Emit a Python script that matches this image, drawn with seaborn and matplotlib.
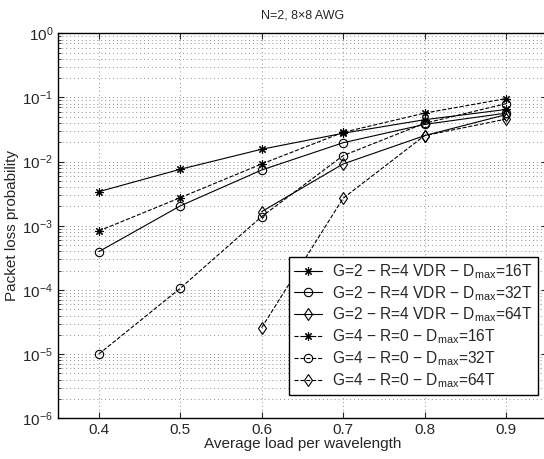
import numpy as np
import pandas as pd
import matplotlib
matplotlib.use('Agg')
import matplotlib.pyplot as plt
import seaborn as sns

load = [0.4, 0.5, 0.6, 0.7, 0.8, 0.9]
load_64 = [0.6, 0.7, 0.8, 0.9]

vdr_16 = [3.4e-3, 7.6e-3, 1.56e-2, 2.77e-2, 4.5e-2, 6.5e-2]
vdr_32 = [3.95e-4, 2.04e-3, 7.4e-3, 1.97e-2, 3.8e-2, 5.7e-2]
vdr_64 = [1.66e-3, 9.2e-3, 2.54e-2, 5.4e-2]
r0_16 = [8.3e-4, 2.74e-3, 9.2e-3, 2.86e-2, 5.7e-2, 9.6e-2]
r0_32 = [1.0e-5, 1.06e-4, 1.39e-3, 1.24e-2, 3.96e-2, 8.0e-2]
r0_64 = [2.58e-5, 2.68e-3, 2.54e-2, 4.6e-2]

labels = [r'G=2 $-$ R=4 VDR $-$ D$_{\rm max}$=16T',
          r'G=2 $-$ R=4 VDR $-$ D$_{\rm max}$=32T',
          r'G=2 $-$ R=4 VDR $-$ D$_{\rm max}$=64T',
          r'G=4 $-$ R=0 $-$ D$_{\rm max}$=16T',
          r'G=4 $-$ R=0 $-$ D$_{\rm max}$=32T',
          r'G=4 $-$ R=0 $-$ D$_{\rm max}$=64T']

sns.set_style('ticks')
plt.rcParams['font.family'] = ['Liberation Sans', 'DejaVu Sans']
plt.rcParams['mathtext.fontset'] = 'custom'
plt.rcParams['mathtext.rm'] = 'Liberation Sans'
plt.rcParams['mathtext.it'] = 'Liberation Sans:italic'

fig = plt.figure(figsize=(5.44, 4.59), dpi=100)
ax = fig.add_axes([58 / 544, 40.7 / 459, 488.7 / 544, 385 / 459])

series = [
    (load, vdr_16, (8, 2, 0), '-'),
    (load, vdr_32, 'o', '-'),
    (load_64, vdr_64, 'd', '-'),
    (load, r0_16, (8, 2, 0), '--'),
    (load, r0_32, 'o', '--'),
    (load_64, r0_64, 'd', '--'),
]
for (xs, ys, mk, ls), lab in zip(series, labels):
    df = pd.DataFrame({'x': xs, 'y': ys})
    sns.lineplot(data=df, x='x', y='y', ax=ax, color='black', linewidth=0.8,
                 linestyle=ls, marker=mk, markersize=6, markerfacecolor='none',
                 markeredgecolor='black', markeredgewidth=0.8, label=lab)

ax.set_yscale('log')
ax.set_ylim(1e-6, 1)
ax.set_xlim(0.35, 0.95)
ax.set_xticks([0.4, 0.5, 0.6, 0.7, 0.8, 0.9])
ax.set_yticks([1e-6, 1e-5, 1e-4, 1e-3, 1e-2, 1e-1, 1])
ax.grid(True, which='major', axis='both', linestyle=(0, (1, 3)), color='#909090', linewidth=0.7)
ax.grid(True, which='minor', axis='y', linestyle=(0, (1, 3)), color='#909090', linewidth=0.7)
ax.tick_params(which='both', direction='in', top=True, right=True, labelsize=11)
ax.tick_params(which='major', length=4)
ax.tick_params(which='minor', length=2)
for s in ax.spines.values():
    s.set_color('black')
    s.set_linewidth(1)

ax.set_title('N=2, 8\u00d78 AWG', fontsize=9, pad=11)
ax.set_xlabel('Average load per wavelength', fontsize=11, labelpad=0)
ax.set_ylabel('Packet loss probability', fontsize=11, labelpad=2)

leg = ax.legend(loc='lower right', bbox_to_anchor=(0.982, 0.06), fontsize=11.2,
                handlelength=1.8, frameon=True, fancybox=False, framealpha=1,
                edgecolor='black', borderpad=0.35, labelspacing=0.2,
                handletextpad=0.6, borderaxespad=0)
leg.get_frame().set_linewidth(1)

fig.savefig('out.png', dpi=100)
